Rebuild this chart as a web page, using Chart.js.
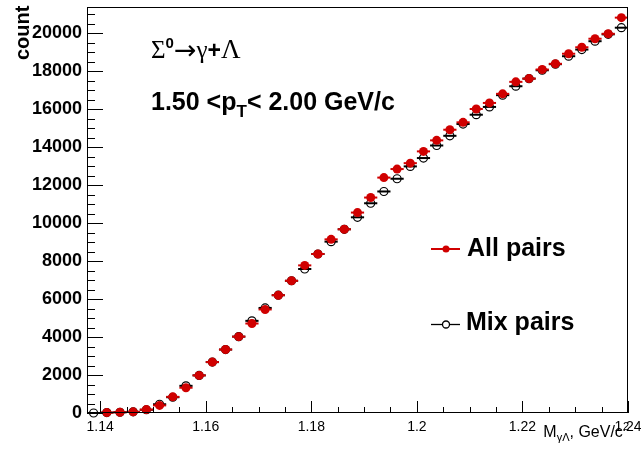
<!DOCTYPE html>
<html>
<head>
<meta charset="utf-8">
<script src="https://cdn.jsdelivr.net/npm/chart.js@4.4.0/dist/chart.umd.min.js"></script>
<style>
html, body { margin: 0; padding: 0; background: #fff; }
#wrap { position: relative; width: 641px; height: 453px; overflow: hidden; font-family: "Liberation Sans", Arial, Helvetica, sans-serif; color: #000; }
#wrap canvas { position: absolute; left: 0; top: 0; }
.txt { position: absolute; white-space: nowrap; line-height: 1; }
.serif { font-family: "Liberation Serif", "Times New Roman", serif; font-weight: normal; }
.sans { font-family: "Liberation Sans", Arial, sans-serif; font-weight: bold; }
</style>
</head>
<body>
<div id="wrap">
  <canvas id="chart" width="641" height="453"></canvas>
  <div class="txt" id="ytitle" style="left:12px; top:60px; font-size:20px; font-weight:bold; transform:rotate(-90deg); transform-origin:left top;">count</div>
  <div class="txt" id="xtitle" style="right:12px; top:424px; font-size:16px;">M<span style="position:relative; top:4px; font-size:11px;">γΛ</span>, GeV/c<span style="position:relative; top:-7px; font-size:11px;">2</span></div>
  <div class="txt serif" id="decay" style="left:151px; top:36px; font-size:25px; line-height:25px;">Σ<span class="sans" style="position:relative; top:-10px; font-size:15px;">0</span><span style="font-family:'DejaVu Sans',sans-serif; font-size:27px; position:relative; top:1px;">→</span>γ<span class="sans" style="font-size:23px;">+</span><span style="font-size:27px;">Λ</span></div>
  <div class="txt" id="ptbin" style="left:151px; top:89px; font-size:25px; font-weight:bold;">1.50 &lt;p<span style="position:relative; top:7px; font-size:17px;">T</span>&lt; 2.00 GeV/c</div>
  <div class="txt" style="left:467px; top:235px; font-size:25px; font-weight:bold;">All pairs</div>
  <div class="txt" style="left:466px; top:309px; font-size:25px; font-weight:bold;">Mix pairs</div>
</div>
<script>
// bin centres of the invariant mass histogram
const binCenters = [1.13875, 1.14125, 1.14375, 1.14625, 1.14875, 1.15125, 1.15375, 1.15625, 1.15875, 1.16125,
    1.16375, 1.16625, 1.16875, 1.17125, 1.17375, 1.17625, 1.17875, 1.18125, 1.18375, 1.18625,
    1.18875, 1.19125, 1.19375, 1.19625, 1.19875, 1.20125, 1.20375, 1.20625, 1.20875, 1.21125,
    1.21375, 1.21625, 1.21875, 1.22125, 1.22375, 1.22625, 1.22875, 1.23125, 1.23375, 1.23625, 1.23875];

// counts
const allPairs = [null, 20, 40, 60, 180, 400, 850, 1330, 1980, 2680,
    3340, 4020, 4710, 5450, 6200, 6960, 7770, 8370, 9140, 9670,
    10550, 11340, 12390, 12840, 13150, 13770, 14350, 14910, 15300, 16000,
    16320, 16800, 17430, 17600, 18080, 18380, 18910, 19250, 19700, 19960, 20810];
const mixPairs = [0, 20, 40, 60, 170, 460, 830, 1430, 1980, 2680,
    3340, 4020, 4850, 5530, 6200, 6960, 7580, 8370, 9020, 9670,
    10300, 11040, 11660, 12330, 12980, 13420, 14080, 14590, 15210, 15700,
    16110, 16730, 17200, 17600, 18040, 18360, 18780, 19130, 19570, 19930, 20280];

// axis ticks
const xTicks = [1.14, 1.16, 1.18, 1.2, 1.22, 1.24];
const xTickLabels = ['1.14', '1.16', '1.18', '1.2', '1.22', '1.24'];
const yTicks = [0, 2000, 4000, 6000, 8000, 10000, 12000, 14000, 16000, 18000, 20000];
const yTickLabels = ['0', '2000', '4000', '6000', '8000', '10000', '12000', '14000', '16000', '18000', '20000'];

const binHalf = 0.00125;
const RED = '#d00000';

function toPoints(vals) {
    return binCenters.map((x, i) => ({ x: x, y: vals[i] }));
}

// ROOT-like frame, inner ticks, x error bars and legend symbols
const rootStyle = {
    id: 'rootStyle',
    beforeDatasetDraw(chart, args) {
        const ds = chart.data.datasets[args.index];
        const xs = chart.scales.x, ys = chart.scales.y, ctx = chart.ctx;
        ctx.save();
        ctx.strokeStyle = ds.errColor;
        ctx.lineWidth = ds.errWidth;
        ds.data.forEach(p => {
            if (p.y === null) return;
            const py = ys.getPixelForValue(p.y);
            ctx.beginPath();
            ctx.moveTo(xs.getPixelForValue(p.x - binHalf), py);
            ctx.lineTo(xs.getPixelForValue(p.x + binHalf), py);
            ctx.stroke();
        });
        ctx.restore();
    },
    afterDraw(chart) {
        const ctx = chart.ctx, a = chart.chartArea;
        const xs = chart.scales.x, ys = chart.scales.y;
        ctx.save();
        ctx.strokeStyle = '#000';
        ctx.lineWidth = 1;
        // frame
        ctx.strokeRect(Math.round(a.left) + 0.5, Math.round(a.top) + 0.5,
            Math.round(a.right - a.left) - 1, Math.round(a.bottom - a.top) - 1);
        // y ticks
        for (let v = 0; v <= ys.max; v += 500) {
            const py = Math.round(ys.getPixelForValue(v)) + 0.5;
            const len = v % 2000 === 0 ? 16 : 8;
            ctx.beginPath();
            ctx.moveTo(a.left, py);
            ctx.lineTo(a.left + len, py);
            ctx.stroke();
        }
        // x ticks
        for (let k = 0; k <= 20; k++) {
            const v = 1.14 + k * 0.005;
            const px = Math.round(xs.getPixelForValue(v)) + 0.5;
            const len = k % 4 === 0 ? 12 : 6;
            ctx.beginPath();
            ctx.moveTo(px, a.bottom);
            ctx.lineTo(px, a.bottom - len);
            ctx.stroke();
        }
        // legend symbols
        ctx.strokeStyle = RED;
        ctx.lineWidth = 2;
        ctx.beginPath(); ctx.moveTo(431, 249); ctx.lineTo(460, 249); ctx.stroke();
        ctx.fillStyle = RED;
        ctx.beginPath(); ctx.arc(446, 249, 3.5, 0, Math.PI * 2); ctx.fill();
        ctx.strokeStyle = '#000';
        ctx.lineWidth = 1.3;
        ctx.beginPath(); ctx.moveTo(431, 324.5); ctx.lineTo(460, 324.5); ctx.stroke();
        ctx.fillStyle = '#fff';
        ctx.beginPath(); ctx.arc(446, 324.5, 3.5, 0, Math.PI * 2); ctx.fill(); ctx.stroke();
        ctx.restore();
    }
};

const tickFont = { family: '"Liberation Sans", Arial, Helvetica, sans-serif' };

new Chart(document.getElementById('chart').getContext('2d'), {
    type: 'scatter',
    data: {
        datasets: [
            {
                label: 'All pairs',
                data: toPoints(allPairs),
                order: 1,
                clip: false,
                pointRadius: 4.5,
                pointBackgroundColor: RED,
                pointBorderColor: RED,
                pointBorderWidth: 0,
                errColor: RED,
                errWidth: 2
            },
            {
                label: 'Mix pairs',
                data: toPoints(mixPairs),
                order: 2,
                clip: false,
                pointRadius: 4,
                pointBackgroundColor: 'rgba(255,255,255,0)',
                pointBorderColor: '#000',
                pointBorderWidth: 1.2,
                errColor: '#000',
                errWidth: 2
            }
        ]
    },
    options: {
        responsive: false,
        animation: false,
        events: [],
        layout: { autoPadding: false, padding: { top: 7, right: 13, bottom: 0, left: 0 } },
        plugins: { legend: { display: false }, tooltip: { enabled: false } },
        scales: {
            x: {
                type: 'linear',
                min: 1.1375,
                max: 1.24,
                grid: { display: false, drawTicks: false },
                border: { display: false },
                afterBuildTicks: s => { s.ticks = xTicks.map(v => ({ value: v })); },
                afterFit: s => { s.height = 40; s.paddingLeft = 0; s.paddingRight = 0; },
                ticks: {
                    autoSkip: false,
                    maxRotation: 0,
                    padding: 6,
                    color: '#000',
                    font: Object.assign({ size: 14 }, tickFont),
                    callback: (v, i) => xTickLabels[i]
                }
            },
            y: {
                type: 'linear',
                min: 0,
                max: 21370,
                grid: { display: false, drawTicks: false },
                border: { display: false },
                afterBuildTicks: s => { s.ticks = yTicks.map(v => ({ value: v })); },
                afterFit: s => { s.width = 87; s.paddingTop = 0; s.paddingBottom = 0; },
                ticks: {
                    padding: 5,
                    color: '#000',
                    font: Object.assign({ size: 18, weight: 'bold' }, tickFont),
                    callback: (v, i) => yTickLabels[i]
                }
            }
        }
    },
    plugins: [rootStyle]
});
</script>
</body>
</html>
